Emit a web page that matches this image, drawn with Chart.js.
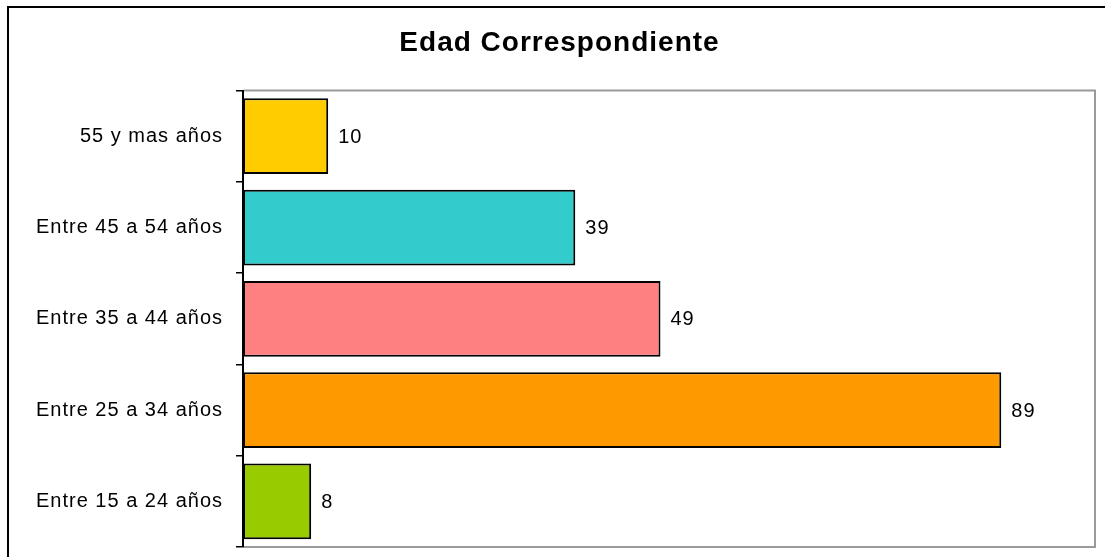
<!DOCTYPE html>
<html>
<head>
<meta charset="utf-8">
<script src="https://cdn.jsdelivr.net/npm/chart.js@4.4.0/dist/chart.umd.min.js"></script>
<style>
  html, body { margin: 0; padding: 0; background: #fff; }
  #wrap { width: 1105px; height: 557px; }
</style>
</head>
<body>
<div id="wrap"><canvas id="edadChart" width="1105" height="557"></canvas></div>
<script>
// Chart data
const categories = ['55 y mas años', 'Entre 45 a 54 años', 'Entre 35 a 44 años', 'Entre 25 a 34 años', 'Entre 15 a 24 años'];
const values = [10, 39, 49, 89, 8];
const barColors = ['#FFCC00', '#33CCCC', '#FF8080', '#FF9900', '#99CC00'];
const titleText = 'Edad Correspondiente';
const axisMin = 0;
const axisMax = 100;

// Frame, plot border and value labels
const framePlugin = {
    id: 'framePlugin',
    beforeDraw(chart) {
        const ctx = chart.ctx;
        ctx.letterSpacing = '1px';
        ctx.save();
        ctx.strokeStyle = '#000';
        ctx.lineWidth = 2;
        ctx.strokeRect(8, 7, 1120, 570);
        ctx.restore();
    },
    beforeDatasetsDraw(chart) {
        const ctx = chart.ctx;
        const a = chart.chartArea;
        ctx.save();
        ctx.strokeStyle = '#9a9a9a';
        ctx.lineWidth = 2;
        ctx.beginPath();
        ctx.moveTo(a.left + 1, a.top);
        ctx.lineTo(a.right, a.top);
        ctx.lineTo(a.right, a.bottom);
        ctx.lineTo(a.left + 1, a.bottom);
        ctx.stroke();
        ctx.restore();
    },
    afterDatasetsDraw(chart) {
        const ctx = chart.ctx;
        const meta = chart.getDatasetMeta(0);
        ctx.save();
        ctx.font = '20px "Liberation Sans", Arial, sans-serif';
        ctx.fillStyle = '#000';
        ctx.textAlign = 'left';
        ctx.textBaseline = 'middle';
        meta.data.forEach(function(bar, i) {
            ctx.fillText(String(values[i]), bar.x + 10, bar.y + 1);
        });
        ctx.restore();
    }
};

const ctx = document.getElementById('edadChart').getContext('2d');
const edadChart = new Chart(ctx, {
    type: 'bar',
    data: {
        labels: categories,
        datasets: [{
            data: values,
            backgroundColor: barColors,
            borderColor: '#000',
            borderWidth: 2,
            borderSkipped: false,
            categoryPercentage: 1.0,
            barPercentage: 0.83
        }]
    },
    options: {
        indexAxis: 'y',
        responsive: false,
        animation: false,
        events: [],
        layout: {
            padding: { top: 0, left: 24, right: 10, bottom: 10 }
        },
        plugins: {
            legend: { display: false },
            tooltip: { enabled: false },
            title: {
                display: true,
                text: titleText,
                color: '#000',
                font: { size: 28, weight: 'bold', family: '"Liberation Sans", Arial, sans-serif' },
                padding: { top: 26, bottom: 31 }
            }
        },
        scales: {
            x: {
                display: false,
                min: axisMin,
                max: axisMax
            },
            y: {
                afterFit: function(scale) {
                    scale.width = 219;
                    scale.paddingTop = 0;
                    scale.paddingBottom = 0;
                },
                border: { display: true, color: '#000', width: 2 },
                grid: {
                    offset: true,
                    drawOnChartArea: false,
                    drawTicks: true,
                    tickLength: 7,
                    color: '#000',
                    lineWidth: 1.5
                },
                ticks: {
                    color: '#000',
                    padding: 13,
                    font: { size: 20, family: '"Liberation Sans", Arial, sans-serif' }
                }
            }
        }
    },
    plugins: [framePlugin]
});
</script>
</body>
</html>
